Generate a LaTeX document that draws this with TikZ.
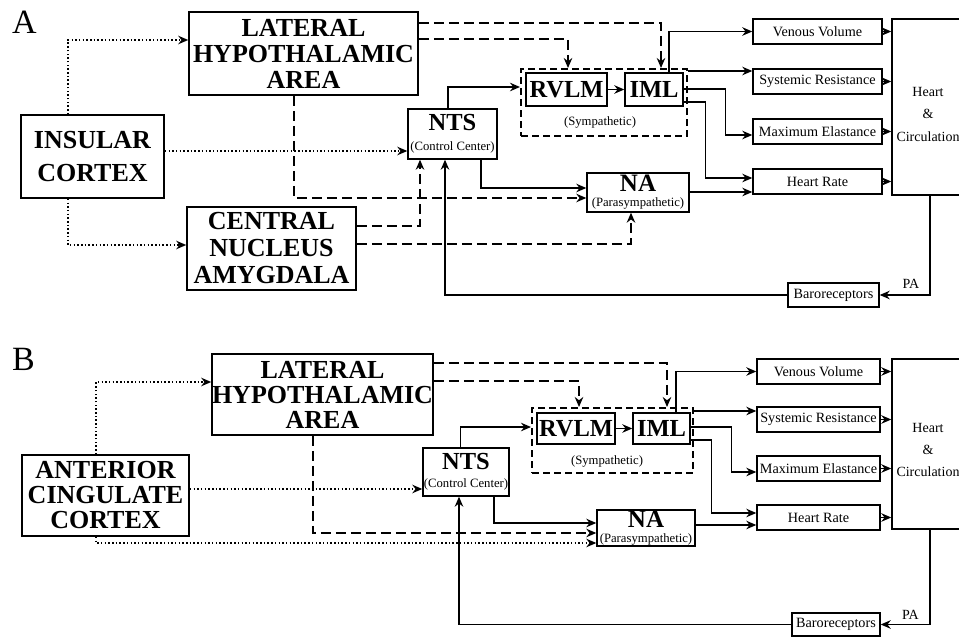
\documentclass[tikz,border=0pt]{standalone}
\usepackage{fontspec}
\setmainfont{Liberation Serif}
\usepackage{tikz}
\usetikzlibrary{arrows.meta}

\begin{document}
\begin{tikzpicture}[x=1pt, y=-1pt,
    region/.style={draw, line width=1.6pt, inner sep=0pt, align=center, font=\fontsize{26}{26}\selectfont\bfseries},
    nucleus/.style={draw, line width=1.4pt, inner sep=0pt, align=center, font=\fontsize{24.5}{20}\selectfont\bfseries},
    effector/.style={draw, line width=1.4pt, inner sep=0pt, font=\fontsize{14.2}{14.2}\selectfont},
    sympbox/.style={draw, line width=2pt, dash pattern=on 7pt off 4pt, inner sep=0pt},
    smalltxt/.style={inner sep=0pt, font=\fontsize{12.7}{12.7}\selectfont},
    link/.style={line width=1.5pt, -{Stealth[length=10pt,width=8.5pt]}},
    dashlink/.style={link, dash pattern=on 10pt off 5pt},
    dotlink/.style={link, dash pattern=on 1.5pt off 2.2pt},
  ]

  % Page frame (the heart box runs off the right edge)
  \useasboundingbox (0,0) rectangle (959,637);
  \clip (0,0) rectangle (959,637);

  % ================= Panel A =================
  \node[font=\fontsize{34}{34}\selectfont] (labA) at (24.5,22.5) {A};

  % Brain areas
  \node[region, minimum width=143pt, minimum height=83pt, font=\fontsize{26}{33}\selectfont\bfseries] (insA) at (92.5,156.5) {INSULAR\\CORTEX};
  \node[region, minimum width=229pt, minimum height=83pt] (lhaA) at (303.5,53.5) {LATERAL\\HYPOTHALAMIC\\AREA};
  \node[region, minimum width=169pt, minimum height=83pt, font=\fontsize{26}{27}\selectfont\bfseries] (cnaA) at (271.5,248.5) {CENTRAL\\NUCLEUS\\AMYGDALA};

  % Brainstem nuclei
  \node[nucleus, minimum width=89pt, minimum height=50pt] (ntsA) at (452.5,134) {NTS\\{\mdseries\fontsize{12.7}{12.7}\selectfont (Control Center)}};
  \node[sympbox, minimum width=166pt, minimum height=67pt] (symA) at (604,102.5) {};
  \node[nucleus, minimum width=81pt, minimum height=33pt] (rvlmA) at (566.5,89.5) {RVLM};
  \node[nucleus, minimum width=58pt, minimum height=33pt] (imlA) at (654,89.5) {IML};
  \node[smalltxt] (symtxtA) at (600,122) {(Sympathetic)};
  \node[nucleus, minimum width=102pt, minimum height=39pt, font=\fontsize{25}{15}\selectfont\bfseries] (naA) at (638,192.5) {NA\\{\mdseries\fontsize{12.7}{12.7}\selectfont (Parasympathetic)}};

  % Effectors and heart
  \foreach \n/\y/\t in {vvA/31.5/Venous Volume, srA/81.5/Systemic Resistance,
                        meA/131.5/Maximum Elastance, hrA/181.5/Heart Rate}
    \node[effector, minimum width=129pt, minimum height=25pt] (\n) at (817.5,\y) {\t};
  \node[effector, minimum width=118pt, minimum height=176pt] (heartA) at (951,107) {};
  \node[font=\fontsize{14}{22.5}\selectfont, align=center] (heartTxtA) at (928,114) {Heart\\\&\\Circulation};
  \node[effector, minimum width=91pt, minimum height=24pt] (baroA) at (833.5,295) {Baroreceptors};
  \node[font=\fontsize{14}{14}\selectfont] (paA) at (911,284) {PA};

  % Cortical inputs (dotted)
  \draw[dotlink] ([xshift=-24.5pt]insA.north) |- ([yshift=13.5pt]lhaA.west);
  \draw[dotlink] ([yshift=5.5pt]insA.east) -- ([yshift=-17pt]ntsA.west);
  \draw[dotlink] ([xshift=-24.5pt]insA.south) |- ([yshift=3.5pt]cnaA.west);

  % Hypothalamic and amygdala inputs (dashed)
  \draw[dashlink] ([yshift=30.5pt]lhaA.east) -| ([xshift=57pt]symA.north);
  \draw[dashlink] ([yshift=14.5pt]lhaA.east) -| ([xshift=-36pt]symA.north);
  \draw[dashlink] ([xshift=-9.5pt]lhaA.south) |- ([yshift=-5.5pt]naA.west);
  \draw[dashlink] ([yshift=22.5pt]cnaA.east) -| ([xshift=-32.5pt]ntsA.south);
  \draw[dashlink] ([yshift=4.5pt]cnaA.east) -| ([xshift=-7pt]naA.south);

  % Reflex pathways
  \draw[link] ([xshift=-4.5pt]ntsA.north) |- ([yshift=15.5pt]symA.west);
  \draw[link] ([xshift=28.5pt]ntsA.south) |- ([yshift=4.5pt]naA.west);
  \draw[link] (rvlmA) -- (imlA);
  \draw[link] ([xshift=15pt]imlA.north) |- (vvA.west);
  \draw[link] ([yshift=31.5pt]symA.east) -- ([yshift=10.5pt]srA.west);
  \draw[link] ([yshift=0.5pt]imlA.east) -- ++(42,0) |- ([yshift=-3.5pt]meA.west);
  \draw[link] ([yshift=-12.5pt]imlA.east) -- ++(22,0) |- ([yshift=3.5pt]hrA.west);
  \draw[link] ([yshift=0.5pt]naA.east) -- ([yshift=-10.5pt]hrA.west);
  \foreach \n in {vvA,srA,meA,hrA}
    \draw[link] (\n.east) -- (\n.east -| heartA.west);

  % Baroreflex loop
  \draw[link] ([xshift=-21pt]heartA.south) |- (baroA.east);
  \draw[link] (baroA.west) -| ([xshift=-7.5pt]ntsA.south);

  % ================= Panel B =================
  \node[font=\fontsize{34}{34}\selectfont] (labB) at (23.5,359.5) {B};

  % Brain areas
  \node[region, minimum width=167pt, minimum height=81pt, font=\fontsize{26}{25}\selectfont\bfseries] (accB) at (105.5,495.5) {ANTERIOR\\CINGULATE\\CORTEX};
  \node[region, minimum width=221pt, minimum height=81pt, font=\fontsize{26}{25}\selectfont\bfseries] (lhaB) at (322.5,394.5) {LATERAL\\HYPOTHALAMIC\\AREA};

  % Brainstem nuclei
  \node[nucleus, minimum width=86pt, minimum height=48pt, font=\fontsize{24.5}{18}\selectfont\bfseries] (ntsB) at (466,472) {NTS\\{\mdseries\fontsize{12.7}{12.7}\selectfont (Control Center)}};
  \node[sympbox, minimum width=161pt, minimum height=65pt] (symB) at (612.5,440.5) {};
  \node[nucleus, minimum width=78pt, minimum height=31pt] (rvlmB) at (576,428.5) {RVLM};
  \node[nucleus, minimum width=57pt, minimum height=31pt] (imlB) at (661.5,428.5) {IML};
  \node[smalltxt] (symtxtB) at (607,461) {(Sympathetic)};
  \node[nucleus, minimum width=98pt, minimum height=36pt, font=\fontsize{25}{15}\selectfont\bfseries] (naB) at (646,528) {NA\\{\mdseries\fontsize{12.7}{12.7}\selectfont (Parasympathetic)}};

  % Effectors and heart
  \foreach \n/\y/\t in {vvB/371.5/Venous Volume, srB/419.5/Systemic Resistance,
                        meB/468.5/Maximum Elastance, hrB/517.5/Heart Rate}
    \node[effector, minimum width=123pt, minimum height=25pt] (\n) at (818.5,\y) {\t};
  \node[effector, minimum width=118pt, minimum height=170pt] (heartB) at (951,444) {};
  \node[font=\fontsize{14}{22}\selectfont, align=center] (heartTxtB) at (928,450) {Heart\\\&\\Circulation};
  \node[effector, minimum width=88pt, minimum height=23pt] (baroB) at (836,624.5) {Baroreceptors};
  \node[font=\fontsize{14}{14}\selectfont] (paB) at (910.5,615) {PA};

  % Cortical inputs (dotted)
  \draw[dotlink] ([xshift=-9.5pt]accB.north) |- ([yshift=12.5pt]lhaB.west);
  \draw[dotlink] ([yshift=6.5pt]accB.east) -- ([yshift=-17pt]ntsB.west);
  \draw[dotlink] ([xshift=-9.5pt]accB.south) |- ([yshift=-15pt]naB.west);

  % Hypothalamic inputs (dashed)
  \draw[dashlink] ([yshift=31.5pt]lhaB.east) -| ([xshift=54.5pt]symB.north);
  \draw[dashlink] ([yshift=13.5pt]lhaB.east) -| ([xshift=-33.5pt]symB.north);
  \draw[dashlink] ([xshift=-9.5pt]lhaB.south) |- ([yshift=-5pt]naB.west);

  % Reflex pathways
  \draw[link] ([xshift=-5.5pt]ntsB.north) |- ([yshift=13.5pt]symB.west);
  \draw[link] ([xshift=28pt]ntsB.south) |- ([yshift=5pt]naB.west);
  \draw[link] (rvlmB) -- (imlB);
  \draw[link] ([xshift=14.5pt]imlB.north) |- (vvB.west);
  \draw[link] ([yshift=29.5pt]symB.east) -- ([yshift=8.5pt]srB.west);
  \draw[link] ([yshift=1.5pt]imlB.east) -- ++(41,0) |- ([yshift=-3.5pt]meB.west);
  \draw[link] ([yshift=-11.5pt]imlB.east) -- ++(21,0) |- ([yshift=4.5pt]hrB.west);
  \draw[link] ([yshift=3pt]naB.east) -- ([yshift=-7.5pt]hrB.west);
  \foreach \n in {vvB,srB,meB,hrB}
    \draw[link] (\n.east) -- (\n.east -| heartB.west);

  % Baroreflex loop
  \draw[link] ([xshift=-21pt]heartB.south) |- (baroB.east);
  \draw[link] (baroB.west) -| ([xshift=-7pt]ntsB.south);

\end{tikzpicture}
\end{document}
